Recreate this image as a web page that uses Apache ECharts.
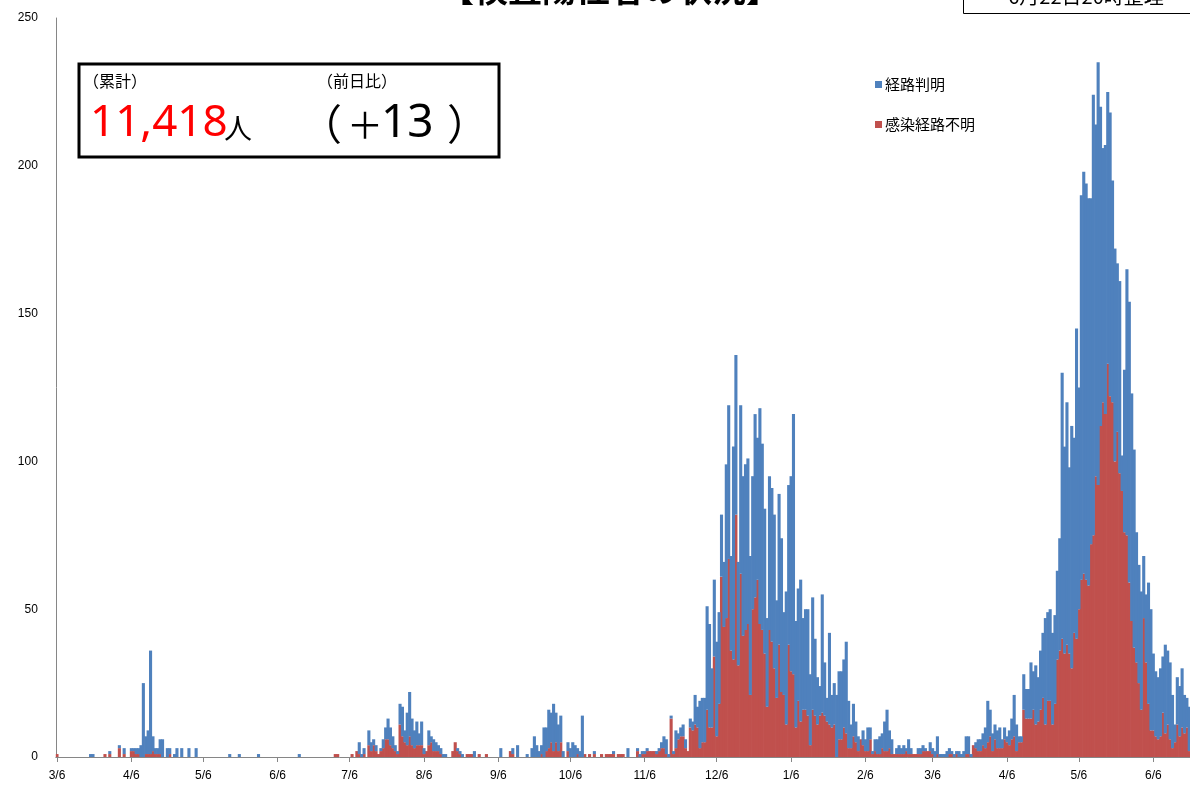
<!DOCTYPE html>
<html><head><meta charset="utf-8">
<script src="https://cdn.jsdelivr.net/npm/echarts@6.0.0/dist/echarts.min.js"></script>
<style>html,body{margin:0;padding:0;background:#fff}#c{width:1190px;height:787px}</style>
</head><body><div id="c"></div>
<script>
// Daily counts from 2020-03-06 to 2021-06-22, per month.
// known = 経路判明, unknown = 感染経路不明
const known_2020_03 = [0,0,0,0,0,0,0,0,0,0,0,0,0,0,1,1,0,0,0,0,0,0,1,0,0,0];
const unknown_2020_03 = [1,0,0,0,0,0,0,0,0,0,0,0,0,0,0,0,0,0,0,0,1,0,1,0,0,0];
const known_2020_04 = [1,0,2,0,0,1,1,2,2,4,25,6,8,35,5,2,2,5,6,0,3,2,0,1,3,0,3,0,0,3];
const unknown_2020_04 = [3,0,1,0,0,2,2,1,1,0,0,1,1,1,2,1,1,1,0,0,0,1,0,0,0,0,0,0,0,0];
const known_2020_05 = [0,0,3,0,0,0,0,0,0,0,0,0,0,0,0,0,1,0,0,0,1,0,0,0,0,0,0,0,1,0,0];
const unknown_2020_05 = [0,0,0,0,0,0,0,0,0,0,0,0,0,0,0,0,0,0,0,0,0,0,0,0,0,0,0,0,0,0,0];
const known_2020_06 = [0,0,0,0,0,0,0,0,0,0,0,0,0,0,1,0,0,0,0,0,0,0,0,0,0,0,0,0,0,0];
const unknown_2020_06 = [0,0,0,0,0,0,0,0,0,0,0,0,0,0,0,0,0,0,0,0,0,0,0,0,0,0,0,0,0,1];
const known_2020_07 = [0,0,0,0,0,0,0,0,0,4,1,2,0,5,3,2,2,0,1,3,4,7,6,4,2,1,7,10,4,11,15];
const unknown_2020_07 = [1,0,0,0,0,0,1,0,2,1,0,1,0,4,2,4,2,1,2,3,6,6,4,3,2,1,11,7,5,4,7];
const known_2020_08 = [9,6,8,4,8,2,0,5,2,4,3,2,2,1,1,0,0,0,0,1,1,1,0,0,0,0,2,0,0,0,0];
const unknown_2020_08 = [4,3,4,4,4,1,2,4,5,2,2,2,1,0,0,0,0,2,5,2,1,0,0,1,1,1,0,0,1,0,0];
const known_2020_09 = [0,0,0,0,0,0,3,0,0,0,0,2,0,4,0,0,0,1,0,3,7,4,2,3,10,8,13,10,16,10];
const unknown_2020_09 = [1,0,0,0,0,0,0,0,0,0,2,1,0,0,0,0,0,0,0,0,0,0,0,1,0,2,3,5,2,5];
const known_2020_10 = [9,9,2,0,3,3,5,4,2,2,14,0,0,0,0,1,0,0,0,0,0,0,0,1,0,0,0,0,0,3,0];
const unknown_2020_10 = [2,5,0,0,2,0,0,0,1,0,0,1,0,1,0,1,0,0,1,0,1,1,1,1,0,1,1,1,0,0,0];
const known_2020_11 = [0,0,1,1,1,1,1,0,0,0,1,1,2,4,5,1,1,1,6,2,3,4,3,0,3,3,10,7,16,15];
const unknown_2020_11 = [0,0,2,0,1,1,2,2,2,2,1,2,3,3,1,0,13,1,3,6,7,7,3,2,10,9,11,10,3,5];
const known_2020_12 = [15,35,35,20,26,32,31,21,22,52,52,32,72,54,35,57,54,56,56,47,45,62,48,73,63,49,30,52,52,52,33];
const unknown_2020_12 = [5,16,10,10,34,7,18,61,44,47,67,36,33,82,31,62,41,43,45,21,50,54,60,45,43,35,17,43,39,30,20];
const known_2021_01 = [51,52,28,45,54,66,88,36,38,48,31,34,36,24,38,26,16,10,40,18,8,31,11,14,21,23,23,23,31,16,8];
const unknown_2021_01 = [38,22,21,11,38,29,28,10,19,12,16,16,14,4,16,14,11,14,15,14,12,11,10,11,0,6,6,10,8,3,3];
const known_2021_02 = [11,7,5,0,5,4,8,4,1,4,5,6,5,10,14,6,5,0,2,3,2,3,1,5,2,0,0,2];
const unknown_2021_02 = [7,5,2,6,4,2,2,6,1,2,1,1,3,2,2,3,1,1,1,1,1,1,2,1,1,1,1,1];
const known_2021_03 = [2,2,1,0,3,2,2,6,1,1,1,2,2,1,1,1,2,1,2,6,6,1,0,2,4,4,4,7,14,9,6];
const unknown_2021_03 = [1,2,2,2,2,1,0,1,0,0,0,0,1,1,0,1,0,0,0,1,1,0,4,3,2,2,4,3,5,7,2];
const known_2021_04 = [5,6,7,3,4,2,5,7,14,9,2,2,12,10,10,19,13,20,15,20,22,36,30,31,31,30,30,38,90,70];
const unknown_2021_04 = [6,3,3,3,6,5,4,6,7,2,5,5,16,13,13,13,16,11,12,16,20,11,19,19,11,18,33,36,40,35];
const known_2021_05 = [82,63,82,66,105,75,130,136,134,131,117,149,119,143,108,86,91,92,96,75,72,57,65,12,55,90,95,77,67,44,40];
const unknown_2021_05 = [38,35,30,42,40,50,60,62,60,58,72,75,95,92,112,120,116,133,122,120,100,110,96,90,76,75,59,46,37,32,25];
const known_2021_06 = [40,21,23,41,41,26,22,21,23,19,30,25,26,18,6,16,17,20,13,10,15,10];
const unknown_2021_06 = [16,47,32,18,9,9,7,6,7,15,8,11,6,3,5,11,7,10,8,10,2,3];

const yTicks = [0, 50, 100, 150, 200, 250];
const legendNames = ['経路判明', '感染経路不明'];
const cumulativeText = '11,418';
const dayDiffText = '13';

const knownData = [].concat(known_2020_03, known_2020_04, known_2020_05, known_2020_06, known_2020_07,
  known_2020_08, known_2020_09, known_2020_10, known_2020_11, known_2020_12, known_2021_01,
  known_2021_02, known_2021_03, known_2021_04, known_2021_05, known_2021_06);
const unknownData = [].concat(unknown_2020_03, unknown_2020_04, unknown_2020_05, unknown_2020_06, unknown_2020_07,
  unknown_2020_08, unknown_2020_09, unknown_2020_10, unknown_2020_11, unknown_2020_12, unknown_2021_01,
  unknown_2021_02, unknown_2021_03, unknown_2021_04, unknown_2021_05, unknown_2021_06);

// date categories
const categories = [];
const d = new Date(2020, 2, 6);
for (let i = 0; i < knownData.length; i++) {
  categories.push((d.getMonth() + 1) + '/' + d.getDate());
  d.setDate(d.getDate() + 1);
}
const isSixth = (idx, val) => /\/6$/.test(val);

const JP = '"Noto Sans CJK JP", "Noto Sans", sans-serif';
const chart = echarts.init(document.getElementById('c'), null, {renderer: 'canvas'});
chart.setOption({
  animation: false,
  backgroundColor: '#fff',
  grid: {left: 55.8, right: -2.9, top: 18, bottom: 30, containLabel: false, outerBoundsMode: 'none'},
  legend: {
    data: legendNames,
    orient: 'vertical',
    left: 870, top: 72,
    itemWidth: 7, itemHeight: 7, itemGap: 25,
    icon: 'rect',
    textStyle: {fontSize: 15, color: '#000', fontFamily: JP, padding: [0, 0, 0, -2]}
  },
  xAxis: {
    type: 'category', data: categories, boundaryGap: true,
    axisLine: {lineStyle: {color: '#868686', width: 1}},
    axisTick: {show: true, interval: isSixth, alignWithLabel: true, length: 5, lineStyle: {color: '#868686'}},
    axisLabel: {interval: isSixth, fontSize: 12, color: '#000', margin: 13, fontFamily: 'Liberation Sans, Arial, sans-serif'},
    splitLine: {show: false}
  },
  yAxis: {
    type: 'value', min: yTicks[0], max: yTicks[yTicks.length - 1], interval: 50,
    splitLine: {show: false},
    axisLine: {show: true, lineStyle: {color: '#868686'}},
    axisTick: {show: false},
    axisLabel: {fontSize: 12, color: '#000', margin: 18, fontFamily: 'Liberation Sans, Arial, sans-serif'}
  },
  series: [
    {name: '感染経路不明', type: 'bar', stack: 'total', data: unknownData, barWidth: 3.1,
     itemStyle: {color: '#C0504D'}},
    {name: '経路判明', type: 'bar', stack: 'total', data: knownData, barWidth: 3.1,
     itemStyle: {color: '#4F81BD'}}
  ],
  graphic: [
    {type: 'text', style: {x: 610, y: 6, text: '【検査陽性者の状況】', font: 'bold 34px ' + JP, fill: '#000', align: 'center', verticalAlign: 'bottom'}},
    {type: 'rect', shape: {x: 963.5, y: -10, width: 240, height: 23.5}, style: {fill: '#fff', stroke: '#000', lineWidth: 1}},
    {type: 'text', style: {x: 1086, y: 6, text: '6月22日20時整理', font: '20px ' + JP, fill: '#000', align: 'center', verticalAlign: 'bottom'}},
    {type: 'rect', shape: {x: 79, y: 64, width: 420, height: 93}, style: {fill: '#fff', stroke: '#000', lineWidth: 3}},
    {type: 'text', style: {x: 83, y: 81, text: '（累計）', font: '16px ' + JP, fill: '#000', verticalAlign: 'middle'}},
    {type: 'text', style: {x: 90, y: 123, text: cumulativeText, font: '44px "Noto Sans", sans-serif', fill: '#FF0000', verticalAlign: 'middle'}},
    {type: 'text', style: {x: 224, y: 128, text: '人', font: '28px ' + JP, fill: '#000', verticalAlign: 'middle'}},
    {type: 'text', style: {x: 317, y: 81, text: '（前日比）', font: '16px ' + JP, fill: '#000', verticalAlign: 'middle'}},
    {type: 'text', style: {x: 300, y: 124, text: '（', font: '42px ' + JP, fill: '#000', verticalAlign: 'middle'}},
    {type: 'text', style: {x: 365, y: 125, text: '＋', font: '36px ' + JP, fill: '#000', align: 'center', verticalAlign: 'middle'}},
    {type: 'text', style: {x: 381, y: 124, text: dayDiffText, font: '46px "Noto Sans", sans-serif', fill: '#000', verticalAlign: 'middle'}},
    {type: 'text', style: {x: 447, y: 124, text: '）', font: '42px ' + JP, fill: '#000', verticalAlign: 'middle'}}
  ]
});
</script>
</body></html>
